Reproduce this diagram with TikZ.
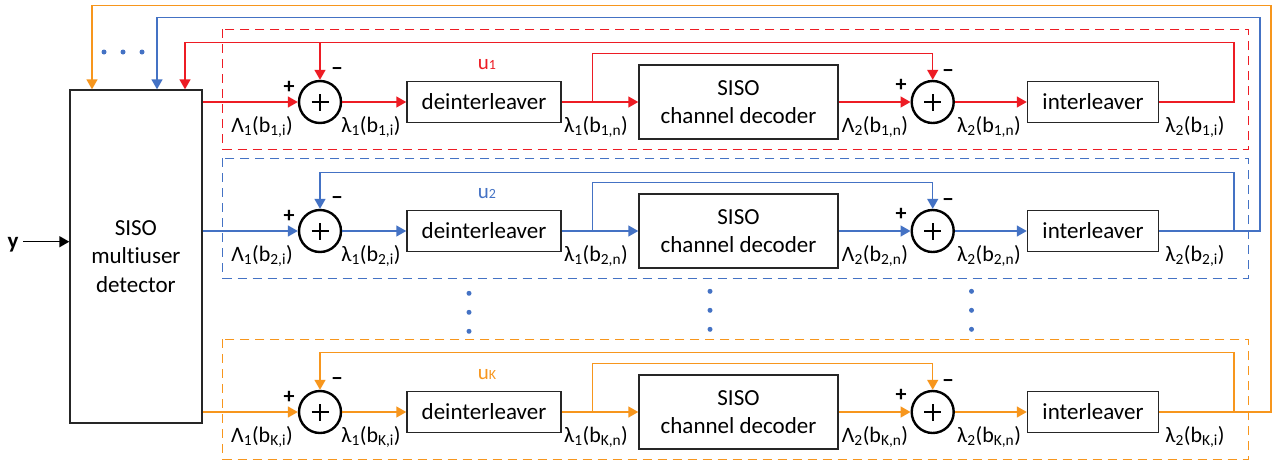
\documentclass[tikz,border=0pt]{standalone}
\usepackage{fontspec}
\setmainfont{Carlito}[Ligatures=NoCommon]
\usetikzlibrary{arrows.meta}
\definecolor{cred}{RGB}{237,28,36}
\definecolor{cblue}{RGB}{68,114,196}
\definecolor{corange}{RGB}{247,150,29}
\tikzset{
 ln/.style={line width=1.5pt, draw=#1},
 ar/.style={line width=1.5pt, draw=#1, -{Triangle[length=10pt,width=11pt]}},
 dbox/.style={line width=1.3pt, draw=#1, dash pattern=on 9pt off 6pt},
 blk/.style={draw=black!85, line width=1.5pt, fill=white, inner sep=0pt, font=\fontsize{23}{28}\selectfont, align=center},
 sumnode/.style={circle, draw=black, line width=2.4pt, minimum size=42pt, inner sep=0pt,
   path picture={\draw[line width=2.4pt] ([xshift=-8.5pt]path picture bounding box.center) -- ([xshift=8.5pt]path picture bounding box.center)
     ([yshift=-8.5pt]path picture bounding box.center) -- ([yshift=8.5pt]path picture bounding box.center);}},
 lab/.style={font=\fontsize{22}{22}\selectfont, inner sep=0pt},
 sgn/.style={font=\bfseries\fontsize{22}{22}\selectfont, inner sep=0pt},
 ulab/.style={font=\fontsize{21}{21}\selectfont, inner sep=0pt, text=#1},
 dotb/.style={fill=cblue},
}
\newcommand\UserRow[4]{%
  \draw[dbox=#3] (222.7,#2-72.7) rectangle (1248.5,#2+47.3);
  \node[sumnode] (sa#1) at (320,#2) {};
  \node[blk,minimum width=154pt,minimum height=41pt] (de#1) at (484,#2) {deinterleaver};
  \node[blk,minimum width=199pt,minimum height=74pt] (dc#1) at (738.5,#2) {SISO\\channel decoder};
  \node[sumnode] (sb#1) at (932.7,#2) {};
  \node[blk,minimum width=131pt,minimum height=41pt] (il#1) at (1093,#2) {interleaver};
  \draw[ar=#3] (mud.east |- sa#1) -- (sa#1);
  \draw[ar=#3] (sa#1) -- (de#1);
  \draw[ar=#3] (de#1) -- (dc#1);
  \draw[ar=#3] (dc#1) -- (sb#1);
  \draw[ar=#3] (sb#1) -- (il#1);
  \coordinate (br#1) at (592.7,#2);
  \coordinate (bt#1) at (592.7,#2-48.7);
  \draw[ar=#3] (br#1) -- (bt#1) -| (sb#1);
  \node[lab] (la#1) at (262,#2+25) {Λ\textsubscript{1}(b\textsubscript{#4,i})};
  \node[lab] (lb#1) at (371,#2+25) {λ\textsubscript{1}(b\textsubscript{#4,i})};
  \node[lab] (lc#1) at (596,#2+25) {λ\textsubscript{1}(b\textsubscript{#4,n})};
  \node[lab] (ld#1) at (875,#2+25) {Λ\textsubscript{2}(b\textsubscript{#4,n})};
  \node[lab] (le#1) at (989,#2+25) {λ\textsubscript{2}(b\textsubscript{#4,n})};
  \node[lab] (lf#1) at (1195,#2+25) {λ\textsubscript{2}(b\textsubscript{#4,i})};
  \node[sgn] (pa#1) at (289,#2-15) {+};
  \node[sgn] (ma#1) at (337,#2-30) {−};
  \node[sgn] (pb#1) at (901,#2-17) {+};
  \node[sgn] (mb#1) at (948,#2-28) {−};
  \node[ulab=#3] (u#1) at (487,#2-37) {u{\fontsize{14}{14}\selectfont #4}};
}
\begin{document}
\begin{tikzpicture}[x=1pt,y=-1pt]
\fill[white] (0,0) rectangle (1273,461);
\useasboundingbox (0,0) rectangle (1273,461);
\node[blk, minimum width=131.7pt, minimum height=332.7pt, font=\fontsize{23}{28.5}\selectfont] (mud) at (135.9,256.4) {SISO\\multiuser\\detector};
\node[font=\bfseries\fontsize{23}{23}\selectfont, inner sep=0pt] (yin) at (13,244.5) {y};
\coordinate (yst) at (23,241.7);
\draw[ar=black] (yst) -- (mud.west |- yst);

\UserRow{1}{102}{cred}{1}
\UserRow{2}{231}{cblue}{2}
\UserRow{K}{412}{corange}{K}

% row 1 feedback
\coordinate (r1a) at (1234,102);
\coordinate (r1b) at (1234,42.3);
\coordinate (r1c) at (185,42.3);
\draw[ar=cred] (il1) -- (r1a) -- (r1b) -- (r1c) -- (mud.north -| r1c);
\draw[ar=cred] (sa1 |- r1c) -- (sa1);

% row 2 feedback
\coordinate (r2a) at (1260,231);
\coordinate (r2b) at (1260,17.3);
\coordinate (r2c) at (157,17.3);
\draw[ar=cblue] (il2) -- (r2a) -- (r2b) -- (r2c) -- (mud.north -| r2c);
\coordinate (r2d) at (1234,231);
\coordinate (r2e) at (1234,172.3);
\draw[ar=cblue] (r2d) -- (r2e) -- (sa2 |- r2e) -- (sa2);

% row K feedback
\coordinate (rKa) at (1271,412);
\coordinate (rKb) at (1271,5.3);
\coordinate (rKc) at (92,5.3);
\draw[ar=corange] (ilK) -- (rKa) -- (rKb) -- (rKc) -- (mud.north -| rKc);
\coordinate (rKd) at (1234,412);
\coordinate (rKe) at (1234,352.3);
\draw[ar=corange] (rKd) -- (rKe) -- (saK |- rKe) -- (saK);

% dots
\foreach \x in {104,123,142} \fill[dotb] (\x,52) circle[radius=2.5pt];
\foreach \y in {293.3,312.3,331.3} \fill[dotb] (469,\y) circle[radius=2.5pt];
\foreach \y in {291.3,310.3,329.3} {\fill[dotb] (710,\y) circle[radius=2.5pt]; \fill[dotb] (971.5,\y) circle[radius=2.5pt];}
\end{tikzpicture}
\end{document}
